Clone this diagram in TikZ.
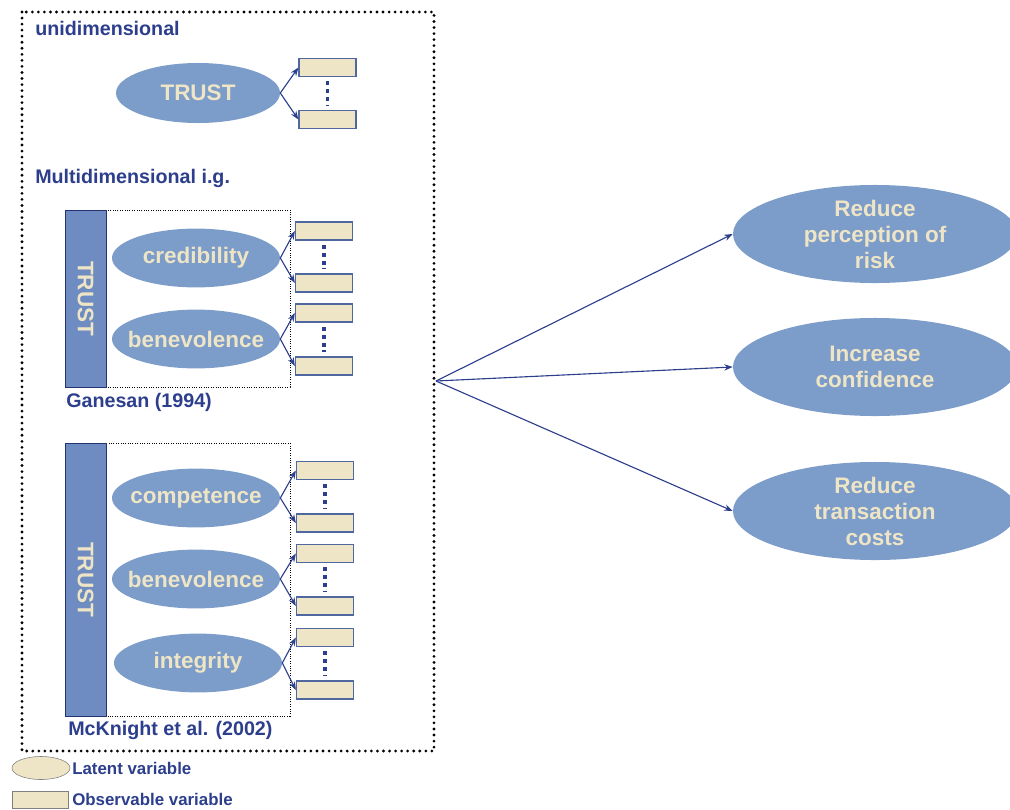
\documentclass[tikz,border=0pt]{standalone}
\usepackage{fontspec}
\setmainfont{Liberation Sans}
\usepackage{tikz}
\usetikzlibrary{shapes.geometric,arrows.meta,positioning}
\definecolor{latblue}{RGB}{124,156,201}
\definecolor{barblue}{RGB}{110,140,193}
\definecolor{cream}{RGB}{238,229,198}
\definecolor{inkblue}{RGB}{44,62,140}
\definecolor{boxline}{RGB}{80,104,160}

\begin{document}
\begin{tikzpicture}[x=0.025cm, y=-0.025cm, >={Stealth[length=6pt,width=4.5pt]}]
   \useasboundingbox (0,0) rectangle (1010,809);
   % frames
   \draw[line width=2.2pt, dash pattern=on 0pt off 4.3pt, line cap=round] (22,12) rectangle (434,751);
   \draw[line width=0.7pt, densely dotted] (65,210) rectangle (290,387);
   \draw[line width=0.7pt, densely dotted] (65,443) rectangle (290,716);
   \begin{scope}[every node/.style={rectangle,draw=inkblue!80!black,fill=barblue,text=cream,
        rotate=-90,inner sep=0pt,minimum height=1.025cm,font=\bfseries\fontsize{16}{18}\selectfont}]
    \node (bar1) [minimum width=4.425cm] at (85.5,298.5) {TRUST};
    \node (bar2) [minimum width=6.825cm] at (85.5,579.5) {TRUST};
   \end{scope}
   \begin{scope}[every node/.style={anchor=west,text=inkblue,inner sep=0pt,font=\bfseries\fontsize{14}{16}\selectfont}]
    \node (uni)  at (35,28)  {unidimensional};
    \node (multi) at (35,178) {Multidimensional i.g.};
    \node (gan)  at (66,402) {Ganesan (1994)};
    \node (mck)  at (68,730) {McKnight et al. (2002)};
   \end{scope}
   \begin{scope}[every node/.style={ellipse,fill=latblue,text=cream,inner sep=-1cm,
        minimum width=4.2cm,minimum height=1.47cm,font=\bfseries\fontsize{16}{18}\selectfont}]
    \node (trust) [minimum width=4.1cm,minimum height=1.5cm] at (198,93) {TRUST};
    \node (cred)  at (196,258) {credibility};
    \node (ben1)  at (196,339) {benevolence};
    \node (comp)  at (196,498) {competence};
    \node (ben2)  at (196,579) {benevolence};
    \node (integ) at (198,663) {integrity};
   \end{scope}
   \begin{scope}[every node/.style={ellipse,fill=latblue,text=cream,inner sep=-1cm,align=center,
        minimum width=7.1cm,minimum height=2.45cm,font=\bfseries\fontsize{16}{18.5}\selectfont}]
    \node (risk) at (875,234) {Reduce\\perception of\\risk};
    \node (conf) at (875,367) {Increase\\confidence};
    \node (cost) at (875,511) {Reduce\\transaction\\costs};
   \end{scope}
   \begin{scope}[every node/.style={rectangle,draw=boxline,line width=0.9pt,fill=cream,
        inner sep=0pt,minimum width=1.425cm,minimum height=0.45cm}]
    \node (o1)  at (327.5,67.5)  {};
    \node (o2)  at (327.5,119.5) {};
    \node (o3)  at (324,231) {};
    \node (o4)  at (324,283) {};
    \node (o5)  at (324,313) {};
    \node (o6)  at (324,366) {};
    \node (o7)  at (325,470.5) {};
    \node (o8)  at (325,523) {};
    \node (o9)  at (325,553.5) {};
    \node (o10) at (325,606) {};
    \node (o11) at (325,637.5) {};
    \node (o12) at (325,690) {};
   \end{scope}
   % legend
   \node (leglat) [ellipse,draw=gray,fill=cream,inner sep=0pt,minimum width=1.45cm,minimum height=0.575cm] at (41,768) {};
   \node (legobs) [rectangle,draw=gray,fill=cream,inner sep=0pt,minimum width=1.4cm,minimum height=0.425cm] at (40,799.5) {};
   \begin{scope}[every node/.style={anchor=west,text=inkblue,inner sep=0pt,font=\bfseries\fontsize{12}{14}\selectfont}]
    \node (latlab) at (72,768) {Latent variable};
    \node (obslab) at (72,799.5) {Observable variable};
   \end{scope}
   \coordinate (hub) at (436,381);
   \begin{scope}[every edge/.style={draw=inkblue,line width=0.8pt,->}]
    \draw (trust.east) edge (o1.west);
    \draw (trust.east) edge (o2.west);
    \draw (cred.east)  edge (o3.west);
    \draw (cred.east)  edge (o4.west);
    \draw (ben1.east)  edge (o5.west);
    \draw (ben1.east)  edge (o6.west);
    \draw (comp.east)  edge (o7.west);
    \draw (comp.east)  edge (o8.west);
    \draw (ben2.east)  edge (o9.west);
    \draw (ben2.east)  edge (o10.west);
    \draw (integ.east) edge (o11.west);
    \draw (integ.east) edge (o12.west);
    \draw (hub) edge (risk.west);
    \draw (hub) edge (conf.west);
    \draw (hub) edge (cost.west);
   \end{scope}
   \begin{scope}[every path/.style={draw=inkblue,line width=2.6pt,dash pattern=on 2.8pt off 2.8pt,shorten <=3pt,shorten >=3pt}]
    \draw (o1.south)  -- (o2.north);
    \draw (o3.south)  -- (o4.north);
    \draw (o5.south)  -- (o6.north);
    \draw (o7.south)  -- (o8.north);
    \draw (o9.south)  -- (o10.north);
    \draw (o11.south) -- (o12.north);
   \end{scope}
\end{tikzpicture}
\end{document}
